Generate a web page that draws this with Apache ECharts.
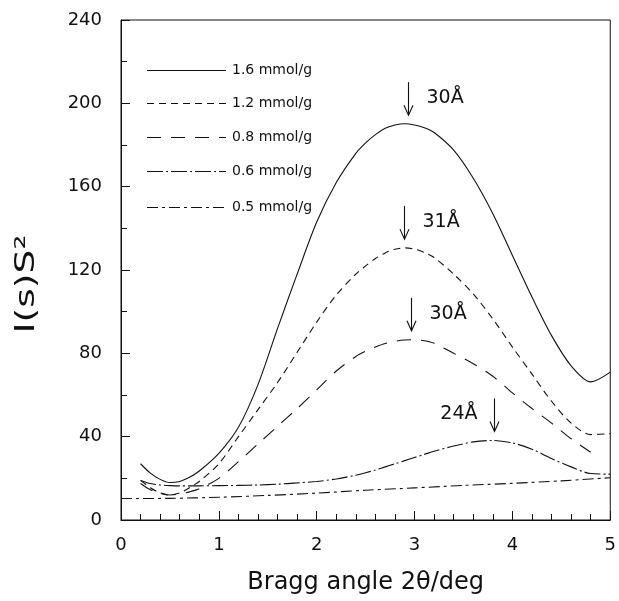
<!DOCTYPE html>
<html>
<head>
<meta charset="utf-8">
<script src="https://cdn.jsdelivr.net/npm/echarts@6/dist/echarts.min.js"></script>
<style>
  html, body { margin: 0; padding: 0; background: #fff; }
  #chart { width: 619px; height: 601px; }
</style>
</head>
<body>
<div id="chart"></div>
<script>
// Scattering angle grid (2θ, deg) shared by the four upper curves
const angles = [0.2, 0.3, 0.4, 0.5, 0.6, 0.7, 0.8, 1.0, 1.2, 1.4, 1.6, 1.8, 2.0, 2.2, 2.4,
                2.5, 2.6, 2.7, 2.8, 2.9, 3.0, 3.1, 3.2, 3.4, 3.6, 3.8, 4.0, 4.2, 4.4, 4.6, 4.8, 5.0];

// Kratky intensity I(s)S² for each loading
const int16 = [27, 22.5, 19.5, 18, 18.5, 20.5, 23.5, 32, 44.5, 65, 92, 118, 143, 162, 176,
               181, 185, 188, 189.6, 190.2, 189.6, 188.3, 186, 177.5, 164, 147, 127, 107, 88.5, 74, 66.3, 71];
const int12 = [19, 15.5, 13, 12, 13, 15.5, 18.5, 27, 40, 53, 66, 80.5, 95, 108, 118,
               122, 125.5, 128.2, 130, 130.6, 130, 128.4, 126, 118, 108.5, 96.5, 83, 70, 57, 46.5, 41, 41.5];
const int08 = [17.5, 14.5, 12.8, 12, 12.5, 13.5, 15, 20, 28, 36.5, 45, 53.5, 62.5, 71.5, 78.5,
               81, 83, 84.7, 85.8, 86.4, 86.5, 86, 84.8, 80, 75, 69, 61, 53.5, 46.5, 39, 32.5, null];
const int06 = [19, 17.5, 16.8, 16.5, 16.4, 16.4, 16.4, 16.5, 16.6, 16.8, 17.2, 17.8, 18.5, 19.7, 21.5,
               22.7, 24, 25.5, 27, 28.5, 30, 31.5, 33, 35.5, 37.5, 38.2, 37, 34, 29.5, 25.5, 22.3, 22];

// The lowest loading is sampled on its own grid, from 0°
const angles05 = [0, 0.5, 1.0, 1.5, 2.0, 2.5, 3.0, 3.5, 4.0, 4.5, 5.0];
const int05 = [10.3, 10.4, 10.9, 11.8, 12.9, 14.3, 15.4, 16.6, 17.6, 18.8, 20.3];

const seriesNames = ['1.6 mmol/g', '1.2 mmol/g', '0.8 mmol/g', '0.6 mmol/g', '0.5 mmol/g'];

// Peak positions marked with arrows and their d-spacings
const peakLabels = ['30Å', '31Å', '30Å', '24Å'];
const peakAngles = [2.93, 2.89, 2.96, 3.81];
const peakValues = [190, 130.5, 86.5, 38.2];

// Axis ticks
const xTicks = [0, 1, 2, 3, 4, 5];
const yTicks = [0, 40, 80, 120, 160, 200, 240];

const pairs = (xs, ys) => xs.map((x, i) => [x, ys[i]]).filter(p => p[1] !== null);

const FONT = '"DejaVu Sans", "Liberation Sans", Arial, sans-serif';
const INK = '#111';

const dashStyles = [null, [7, 5], [14, 10], [16, 3, 2, 3], [11, 4, 3, 4]];
const curves = [
  pairs(angles, int16), pairs(angles, int12), pairs(angles, int08),
  pairs(angles, int06), pairs(angles05, int05)
];

const chart = echarts.init(document.getElementById('chart'), null, { renderer: 'canvas' });

chart.setOption({
  animation: false,
  backgroundColor: '#fff',
  grid: {
    left: 121, right: 6, top: 20, bottom: 81,
    show: true, borderColor: INK, borderWidth: 1, backgroundColor: 'transparent'
  },
  xAxis: {
    type: 'value',
    min: xTicks[0], max: xTicks[xTicks.length - 1], interval: 1,
    name: 'Bragg angle 2θ/deg',
    nameLocation: 'middle', nameGap: 51,
    nameTextStyle: { fontFamily: FONT, fontSize: 24, color: INK },
    axisLine: { show: true, lineStyle: { color: INK, width: 1 } },
    axisTick: { show: true, inside: true, length: 9, lineStyle: { color: INK } },
    minorTick: { show: true, splitNumber: 5, length: 6, lineStyle: { color: INK } },
    axisLabel: { fontFamily: FONT, fontSize: 18, color: INK, margin: 16 },
    splitLine: { show: false }
  },
  yAxis: {
    type: 'value',
    min: yTicks[0], max: yTicks[yTicks.length - 1], interval: 40,
    axisLine: { show: true, lineStyle: { color: INK, width: 1 } },
    axisTick: { show: true, inside: true, length: 9, lineStyle: { color: INK } },
    minorTick: { show: true, splitNumber: 2, length: 6, lineStyle: { color: INK } },
    axisLabel: { fontFamily: FONT, fontSize: 18, color: INK, margin: 19 },
    splitLine: { show: false }
  },
  series: curves.map((data, i) => ({
    name: seriesNames[i],
    type: 'line',
    data: data,
    smooth: 0.3,
    showSymbol: false,
    symbol: 'none',
    color: INK,
    lineStyle: { color: INK, width: 1.1, type: dashStyles[i] || 'solid' },
    z: 3
  }))
});

const graphics = [];

// Legend: line sample followed by the loading, one row per series
seriesNames.forEach((name, i) => {
  const rowY = [70, 103, 137, 171, 207][i] + 0.5;
  graphics.push({
    type: 'line',
    shape: { x1: 147, y1: rowY, x2: 226, y2: rowY },
    style: { stroke: INK, lineWidth: 1.1, lineDash: dashStyles[i] },
    z: 10
  });
  graphics.push({
    type: 'text',
    x: 232, y: rowY,
    style: { text: name, font: '14px ' + FONT, fill: INK, align: 'left', verticalAlign: 'middle' },
    z: 10
  });
});

// Arrows pointing down at each peak, with the d-spacing beside them
const labelSide = ['right', 'right', 'right', 'left'];
peakLabels.forEach((label, i) => {
  const p = chart.convertToPixel({ gridIndex: 0 }, [peakAngles[i], peakValues[i]]);
  const x = Math.round(p[0]) + 0.5;
  const tip = p[1] - 9;
  const top = tip - 33;
  graphics.push({
    type: 'polyline',
    shape: { points: [[x, top], [x, tip]] },
    style: { stroke: INK, lineWidth: 1.1, fill: null },
    z: 10
  });
  graphics.push({
    type: 'polyline',
    shape: { points: [[x - 4.5, tip - 10], [x, tip], [x + 4.5, tip - 10]] },
    style: { stroke: INK, lineWidth: 1.1, fill: null },
    z: 10
  });
  const right = labelSide[i] === 'right';
  graphics.push({
    type: 'text',
    x: right ? x + 18 : x - 17,
    y: tip - 17,
    style: {
      text: label,
      font: '19px ' + FONT,
      fill: INK,
      align: right ? 'left' : 'right',
      verticalAlign: 'middle'
    },
    z: 10
  });
});

// Vertical axis title with squared S
graphics.push({
  type: 'text',
  x: 27, y: 284,
  rotation: Math.PI / 2,
  scaleX: 1.45,
  style: {
    text: 'I(s)S²',
    font: '26px ' + FONT,
    fill: INK,
    align: 'center',
    verticalAlign: 'middle'
  },
  z: 10
});

chart.setOption({ graphic: graphics });
</script>
</body>
</html>
